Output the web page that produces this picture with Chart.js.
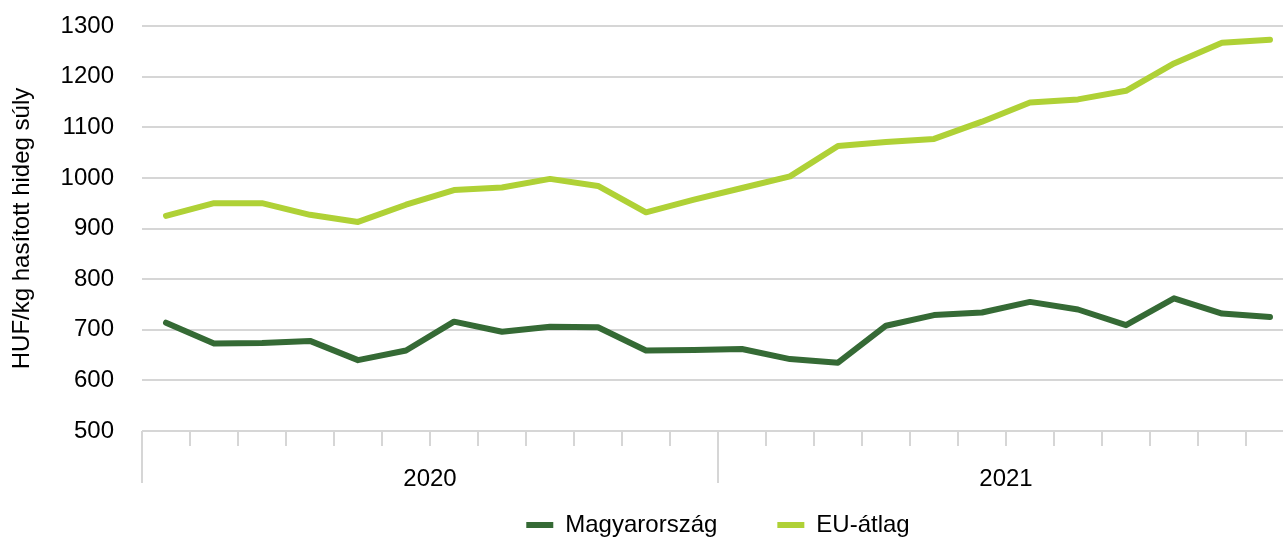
<!DOCTYPE html>
<html>
<head>
<meta charset="utf-8">
<script src="https://cdn.jsdelivr.net/npm/chart.js@4"></script>
<style>
  html, body { margin: 0; padding: 0; background: #fff; overflow: hidden; }
  #wrap { position: absolute; left: 0; top: 0; width: 1300px; height: 547px; }
</style>
</head>
<body>
<div id="wrap"><canvas id="chart"></canvas></div>
<script>
const years = ['2020', '2021'];
const months = ['jan.', 'febr.', 'márc.', 'ápr.', 'máj.', 'jún.', 'júl.', 'aug.', 'szept.', 'okt.', 'nov.', 'dec.'];

const magyarorszag = [714, 673, 674, 678, 640, 659, 716, 696, 706, 705, 659, 660,
                      662, 642, 635, 708, 729, 734, 755, 740, 709, 762, 732, 725];
const euAtlag = [925, 950, 950, 927, 913, 947, 976, 981, 998, 984, 932, 957,
                 980, 1003, 1063, 1071, 1077, 1111, 1149, 1155, 1172, 1226, 1267, 1273];

const yTicks = { min: 500, max: 1300, step: 100 };

const labels = [];
years.forEach(y => months.forEach(m => labels.push(y + ' ' + m)));

const gridColor = '#d6d6d6';
Chart.defaults.font.family = '"Liberation Sans", Arial, sans-serif';
Chart.defaults.color = '#000';

new Chart(document.getElementById('chart').getContext('2d'), {
  type: 'line',
  data: {
    labels: labels,
    datasets: [
      {
        label: 'Magyarország',
        data: magyarorszag,
        borderColor: '#356a35',
        backgroundColor: '#356a35',
        borderWidth: 6,
        pointRadius: 0,
        tension: 0,
        borderCapStyle: 'round',
        borderJoinStyle: 'round'
      },
      {
        label: 'EU-átlag',
        data: euAtlag,
        borderColor: '#afd136',
        backgroundColor: '#afd136',
        borderWidth: 6,
        pointRadius: 0,
        tension: 0,
        borderCapStyle: 'round',
        borderJoinStyle: 'round'
      }
    ]
  },
  options: {
    responsive: true,
    maintainAspectRatio: false,
    animation: false,
    layout: { padding: { left: 8, right: 6, top: 26, bottom: 0 } },
    plugins: {
      tooltip: { enabled: false },
      legend: {
        position: 'bottom',
        fullSize: false,
        labels: {
          usePointStyle: true,
          pointStyle: 'line',
          pointStyleWidth: 27,
          boxHeight: 6,
          padding: 60,
          font: { size: 24 },
          color: '#000'
        }
      }
    },
    scales: {
      x: {
        type: 'category',
        position: 'bottom',
        weight: 0,
        offset: true,
        border: { display: false },
        grid: {
          offset: true,
          drawOnChartArea: false,
          tickLength: 15,
          color: gridColor,
          lineWidth: 2
        },
        ticks: { display: false },
        afterFit: scale => { scale.height = 0; }
      },
      x2: {
        type: 'category',
        position: 'bottom',
        weight: 1,
        labels: years,
        offset: true,
        border: { display: false },
        grid: {
          offset: true,
          drawOnChartArea: false,
          tickLength: 52,
          color: gridColor,
          lineWidth: 2
        },
        ticks: { padding: -18, font: { size: 24 }, color: '#000', maxRotation: 0 },
        afterFit: scale => {
          scale.height = 22;
          // year labels sit below this squeezed box, so do not clip them
          scale._computeLabelArea = () => undefined;
        }
      },
      y: {
        min: yTicks.min,
        max: yTicks.max,
        border: { display: false },
        grid: { color: gridColor, lineWidth: 2, drawTicks: true, tickLength: 28, tickColor: 'rgba(0,0,0,0)' },
        ticks: {
          stepSize: yTicks.step,
          padding: 0,
          font: { size: 24 },
          color: '#000',
          callback: v => String(v)
        },
        title: {
          display: true,
          text: 'HUF/kg hasított hideg súly',
          font: { size: 24 },
          color: '#000',
          padding: 0
        },
        afterFit: scale => { scale.width = 134; }
      }
    }
  }
});
</script>
</body>
</html>
